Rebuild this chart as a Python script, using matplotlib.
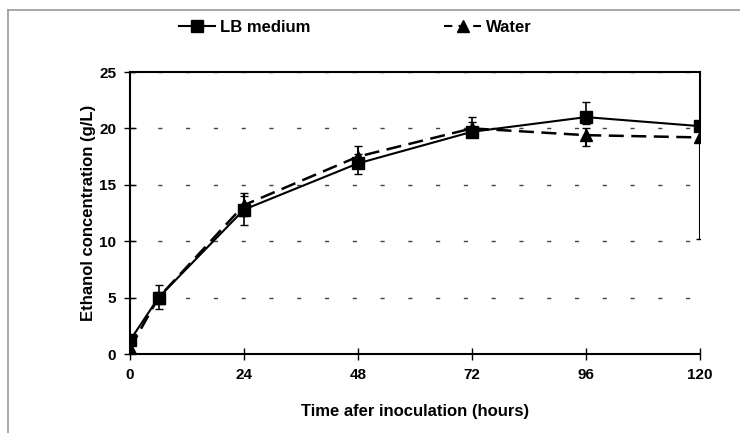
import matplotlib
matplotlib.use("Agg")
import matplotlib.pyplot as plt
from matplotlib.lines import Line2D

plt.rcParams['font.family'] = ['Liberation Sans', 'DejaVu Sans']
plt.rcParams['font.weight'] = 'bold'

time_h = [0, 6, 24, 48, 72, 96, 120]
lb_medium = [1.2, 5.0, 12.8, 16.9, 19.7, 21.0, 20.2]
lb_err_low = [0.3, 1.0, 1.4, 0.9, 0.5, 0.6, 0.4]
lb_err_high = [0.3, 1.1, 1.2, 0.8, 1.3, 1.3, 0.4]
water = [0.5, 5.0, 13.2, 17.5, 20.0, 19.4, 19.2]
water_err_low = [0.2, 0.5, 1.0, 0.8, 0.4, 1.0, 9.0]
water_err_high = [0.3, 0.5, 1.1, 0.9, 0.6, 0.6, 0.8]
x_ticks = [0, 24, 48, 72, 96, 120]
y_ticks = [0, 5, 10, 15, 20, 25]

fig = plt.figure(figsize=(7.4, 4.33), dpi=100)
ax = fig.add_axes([130/740, 1-354/433, 570/740, 282/433])

ax.errorbar(time_h, water, yerr=[water_err_low, water_err_high], color='black',
            linestyle=(0, (6, 3)), linewidth=1.8, marker='^', markersize=8,
            ecolor='black', elinewidth=1.5, capsize=3, zorder=3)
ax.errorbar(time_h, lb_medium, yerr=[lb_err_low, lb_err_high], color='black',
            linestyle='-', linewidth=1.5, marker='s', markersize=8,
            ecolor='black', elinewidth=1.2, capsize=3, zorder=4)

ax.set_xlim(0, 120)
ax.set_ylim(0, 25)
ax.set_xticks(x_ticks)
ax.set_yticks(y_ticks)
ax.tick_params(direction='inout', length=8, width=1, labelsize=11, pad=6)
for lbl in ax.get_xticklabels() + ax.get_yticklabels():
    lbl.set_fontweight('bold')

for s in ['left', 'bottom', 'top', 'right']:
    ax.spines[s].set_linewidth(1.5)
ax.spines['right'].set_bounds(lb_medium[-1], 25)

ax.yaxis.grid(True, linestyle=(0, (3, 17)), color='#444444', linewidth=1)
ax.set_axisbelow(True)

ax.set_xlabel('Time afer inoculation (hours)', fontsize=12, fontweight='bold', labelpad=16)
ax.set_ylabel('Ethanol concentration (g/L)', fontsize=12, fontweight='bold', labelpad=2)

h1 = Line2D([], [], color='black', linestyle='-', linewidth=1.5, marker='s', markersize=8)
h2 = Line2D([], [], color='black', linestyle=(0, (4, 3)), linewidth=1.5, marker='^', markersize=8)
fig.legend([h1, h2], ['LB medium', 'Water'], loc='center', bbox_to_anchor=(0.48, 1-27/433),
           ncol=2, frameon=False, columnspacing=8, handlelength=2.2, handletextpad=0.3,
           prop={'weight': 'bold', 'size': 12})

# outer frame lines
fig.add_artist(Line2D([8/740, 1], [1-10/433, 1-10/433], color='#999999', linewidth=1.2))
fig.add_artist(Line2D([8/740, 8/740], [0, 1-10/433], color='#999999', linewidth=1.2))

fig.savefig('out.png', dpi=100)
